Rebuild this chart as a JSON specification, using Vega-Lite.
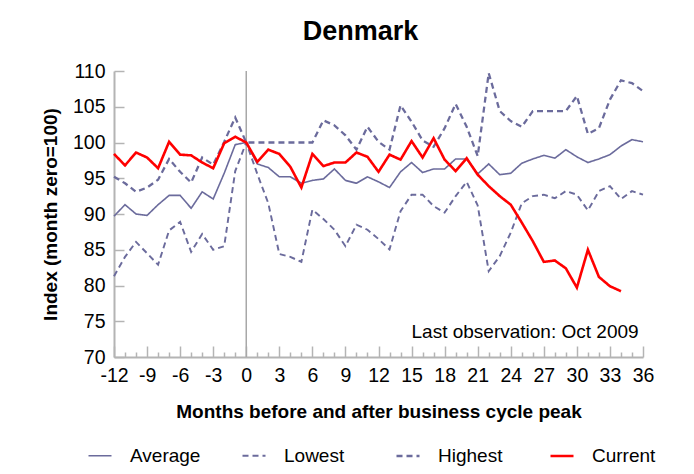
{
  "$schema": "https://vega.github.io/schema/vega-lite/v6.json",
  "width": 529,
  "height": 286,
  "autosize": {"type": "none"},
  "padding": {"left": 114, "top": 71, "right": 51, "bottom": 117},
  "background": "white",
  "config": {"view": {"stroke": null}, "font": "Liberation Sans"},
  "title": {"text": "Denmark", "fontSize": 27, "font": "Liberation Sans", "fontWeight": "bold", "color": "black", "offset": 15, "dx": -18, "anchor": "middle"},
  "datasets": {
    "series": [
      {"m": -12, "s": "Average", "v": 89.7}, {"m": -11, "s": "Average", "v": 91.3}, {"m": -10, "s": "Average", "v": 90.0}, {"m": -9, "s": "Average", "v": 89.8}, {"m": -8, "s": "Average", "v": 91.3}, {"m": -7, "s": "Average", "v": 92.6}, {"m": -6, "s": "Average", "v": 92.6}, {"m": -5, "s": "Average", "v": 90.8}, {"m": -4, "s": "Average", "v": 93.1}, {"m": -3, "s": "Average", "v": 92.1}, {"m": -2, "s": "Average", "v": 95.7}, {"m": -1, "s": "Average", "v": 99.7}, {"m": 0, "s": "Average", "v": 100.0}, {"m": 1, "s": "Average", "v": 97.0}, {"m": 2, "s": "Average", "v": 96.5}, {"m": 3, "s": "Average", "v": 95.2}, {"m": 4, "s": "Average", "v": 95.2}, {"m": 5, "s": "Average", "v": 94.3}, {"m": 6, "s": "Average", "v": 94.7}, {"m": 7, "s": "Average", "v": 94.9}, {"m": 8, "s": "Average", "v": 96.3}, {"m": 9, "s": "Average", "v": 94.7}, {"m": 10, "s": "Average", "v": 94.3}, {"m": 11, "s": "Average", "v": 95.2}, {"m": 12, "s": "Average", "v": 94.5}, {"m": 13, "s": "Average", "v": 93.7}, {"m": 14, "s": "Average", "v": 95.9}, {"m": 15, "s": "Average", "v": 97.2}, {"m": 16, "s": "Average", "v": 95.8}, {"m": 17, "s": "Average", "v": 96.3}, {"m": 18, "s": "Average", "v": 96.3}, {"m": 19, "s": "Average", "v": 97.7}, {"m": 20, "s": "Average", "v": 97.7}, {"m": 21, "s": "Average", "v": 95.6}, {"m": 22, "s": "Average", "v": 97.0}, {"m": 23, "s": "Average", "v": 95.5}, {"m": 24, "s": "Average", "v": 95.7}, {"m": 25, "s": "Average", "v": 97.1}, {"m": 26, "s": "Average", "v": 97.7}, {"m": 27, "s": "Average", "v": 98.2}, {"m": 28, "s": "Average", "v": 97.8}, {"m": 29, "s": "Average", "v": 99.0}, {"m": 30, "s": "Average", "v": 98.0}, {"m": 31, "s": "Average", "v": 97.2}, {"m": 32, "s": "Average", "v": 97.7}, {"m": 33, "s": "Average", "v": 98.3}, {"m": 34, "s": "Average", "v": 99.5}, {"m": 35, "s": "Average", "v": 100.4}, {"m": 36, "s": "Average", "v": 100.1},
      {"m": -12, "s": "Lowest", "v": 81.3}, {"m": -11, "s": "Lowest", "v": 84.0}, {"m": -10, "s": "Lowest", "v": 86.1}, {"m": -9, "s": "Lowest", "v": 84.5}, {"m": -8, "s": "Lowest", "v": 82.9}, {"m": -7, "s": "Lowest", "v": 87.7}, {"m": -6, "s": "Lowest", "v": 88.9}, {"m": -5, "s": "Lowest", "v": 84.7}, {"m": -4, "s": "Lowest", "v": 87.2}, {"m": -3, "s": "Lowest", "v": 85.0}, {"m": -2, "s": "Lowest", "v": 85.5}, {"m": -1, "s": "Lowest", "v": 96.0}, {"m": 0, "s": "Lowest", "v": 100.0}, {"m": 1, "s": "Lowest", "v": 95.6}, {"m": 2, "s": "Lowest", "v": 91.5}, {"m": 3, "s": "Lowest", "v": 84.4}, {"m": 4, "s": "Lowest", "v": 84.0}, {"m": 5, "s": "Lowest", "v": 83.3}, {"m": 6, "s": "Lowest", "v": 90.6}, {"m": 7, "s": "Lowest", "v": 89.3}, {"m": 8, "s": "Lowest", "v": 87.8}, {"m": 9, "s": "Lowest", "v": 85.5}, {"m": 10, "s": "Lowest", "v": 88.5}, {"m": 11, "s": "Lowest", "v": 87.8}, {"m": 12, "s": "Lowest", "v": 86.5}, {"m": 13, "s": "Lowest", "v": 85.05}, {"m": 14, "s": "Lowest", "v": 90.4}, {"m": 15, "s": "Lowest", "v": 92.7}, {"m": 16, "s": "Lowest", "v": 92.7}, {"m": 17, "s": "Lowest", "v": 91.1}, {"m": 18, "s": "Lowest", "v": 90.2}, {"m": 19, "s": "Lowest", "v": 92.5}, {"m": 20, "s": "Lowest", "v": 94.5}, {"m": 21, "s": "Lowest", "v": 91.2}, {"m": 22, "s": "Lowest", "v": 82.0}, {"m": 23, "s": "Lowest", "v": 84.1}, {"m": 24, "s": "Lowest", "v": 87.4}, {"m": 25, "s": "Lowest", "v": 91.5}, {"m": 26, "s": "Lowest", "v": 92.5}, {"m": 27, "s": "Lowest", "v": 92.7}, {"m": 28, "s": "Lowest", "v": 92.2}, {"m": 29, "s": "Lowest", "v": 93.2}, {"m": 30, "s": "Lowest", "v": 92.7}, {"m": 31, "s": "Lowest", "v": 90.5}, {"m": 32, "s": "Lowest", "v": 93.2}, {"m": 33, "s": "Lowest", "v": 93.9}, {"m": 34, "s": "Lowest", "v": 92.1}, {"m": 35, "s": "Lowest", "v": 93.2}, {"m": 36, "s": "Lowest", "v": 92.7},
      {"m": -12, "s": "Highest", "v": 95.2}, {"m": -11, "s": "Highest", "v": 94.3}, {"m": -10, "s": "Highest", "v": 93.1}, {"m": -9, "s": "Highest", "v": 93.7}, {"m": -8, "s": "Highest", "v": 94.8}, {"m": -7, "s": "Highest", "v": 97.7}, {"m": -6, "s": "Highest", "v": 95.9}, {"m": -5, "s": "Highest", "v": 94.4}, {"m": -4, "s": "Highest", "v": 97.9}, {"m": -3, "s": "Highest", "v": 96.9}, {"m": -2, "s": "Highest", "v": 100.1}, {"m": -1, "s": "Highest", "v": 103.5}, {"m": 0, "s": "Highest", "v": 100.0}, {"m": 1, "s": "Highest", "v": 100.0}, {"m": 2, "s": "Highest", "v": 100.0}, {"m": 3, "s": "Highest", "v": 100.0}, {"m": 4, "s": "Highest", "v": 100.0}, {"m": 5, "s": "Highest", "v": 100.0}, {"m": 6, "s": "Highest", "v": 100.0}, {"m": 7, "s": "Highest", "v": 103.1}, {"m": 8, "s": "Highest", "v": 102.4}, {"m": 9, "s": "Highest", "v": 101.0}, {"m": 10, "s": "Highest", "v": 99.0}, {"m": 11, "s": "Highest", "v": 102.2}, {"m": 12, "s": "Highest", "v": 100.1}, {"m": 13, "s": "Highest", "v": 99.0}, {"m": 14, "s": "Highest", "v": 105.2}, {"m": 15, "s": "Highest", "v": 102.9}, {"m": 16, "s": "Highest", "v": 100.3}, {"m": 17, "s": "Highest", "v": 99.4}, {"m": 18, "s": "Highest", "v": 102.0}, {"m": 19, "s": "Highest", "v": 105.4}, {"m": 20, "s": "Highest", "v": 102.2}, {"m": 21, "s": "Highest", "v": 98.1}, {"m": 22, "s": "Highest", "v": 109.7}, {"m": 23, "s": "Highest", "v": 104.4}, {"m": 24, "s": "Highest", "v": 103.0}, {"m": 25, "s": "Highest", "v": 102.2}, {"m": 26, "s": "Highest", "v": 104.4}, {"m": 27, "s": "Highest", "v": 104.4}, {"m": 28, "s": "Highest", "v": 104.4}, {"m": 29, "s": "Highest", "v": 104.4}, {"m": 30, "s": "Highest", "v": 106.5}, {"m": 31, "s": "Highest", "v": 101.2}, {"m": 32, "s": "Highest", "v": 102.0}, {"m": 33, "s": "Highest", "v": 106.0}, {"m": 34, "s": "Highest", "v": 108.7}, {"m": 35, "s": "Highest", "v": 108.3}, {"m": 36, "s": "Highest", "v": 107.2},
      {"m": -12, "s": "Current", "v": 98.4}, {"m": -11, "s": "Current", "v": 96.8}, {"m": -10, "s": "Current", "v": 98.6}, {"m": -9, "s": "Current", "v": 97.9}, {"m": -8, "s": "Current", "v": 96.4}, {"m": -7, "s": "Current", "v": 100.1}, {"m": -6, "s": "Current", "v": 98.3}, {"m": -5, "s": "Current", "v": 98.2}, {"m": -4, "s": "Current", "v": 97.2}, {"m": -3, "s": "Current", "v": 96.4}, {"m": -2, "s": "Current", "v": 99.9}, {"m": -1, "s": "Current", "v": 100.8}, {"m": 0, "s": "Current", "v": 100.0}, {"m": 1, "s": "Current", "v": 97.3}, {"m": 2, "s": "Current", "v": 99.0}, {"m": 3, "s": "Current", "v": 98.4}, {"m": 4, "s": "Current", "v": 96.6}, {"m": 5, "s": "Current", "v": 93.7}, {"m": 6, "s": "Current", "v": 98.4}, {"m": 7, "s": "Current", "v": 96.7}, {"m": 8, "s": "Current", "v": 97.2}, {"m": 9, "s": "Current", "v": 97.2}, {"m": 10, "s": "Current", "v": 98.6}, {"m": 11, "s": "Current", "v": 98.0}, {"m": 12, "s": "Current", "v": 95.9}, {"m": 13, "s": "Current", "v": 98.3}, {"m": 14, "s": "Current", "v": 97.6}, {"m": 15, "s": "Current", "v": 100.2}, {"m": 16, "s": "Current", "v": 97.9}, {"m": 17, "s": "Current", "v": 100.6}, {"m": 18, "s": "Current", "v": 97.6}, {"m": 19, "s": "Current", "v": 96.0}, {"m": 20, "s": "Current", "v": 97.8}, {"m": 21, "s": "Current", "v": 95.5}, {"m": 22, "s": "Current", "v": 93.9}, {"m": 23, "s": "Current", "v": 92.5}, {"m": 24, "s": "Current", "v": 91.3}, {"m": 25, "s": "Current", "v": 88.8}, {"m": 26, "s": "Current", "v": 86.2}, {"m": 27, "s": "Current", "v": 83.3}, {"m": 28, "s": "Current", "v": 83.5}, {"m": 29, "s": "Current", "v": 82.4}, {"m": 30, "s": "Current", "v": 79.7}, {"m": 31, "s": "Current", "v": 85.0}, {"m": 32, "s": "Current", "v": 81.2}, {"m": 33, "s": "Current", "v": 79.9}, {"m": 34, "s": "Current", "v": 79.2}
    ],
    "note": [{"m": 35.6, "v": 72.7, "t": "Last observation: Oct 2009"}],
    "zero": [{"m": 0, "v": 70, "v2": 110}]
  },
  "encoding": {
    "x": {
      "field": "m", "type": "quantitative",
      "scale": {"domain": [-12, 36], "nice": false, "zero": false},
      "axis": {
        "values": [-12,-11,-10,-9,-8,-7,-6,-5,-4,-3,-2,-1,0,1,2,3,4,5,6,7,8,9,10,11,12,13,14,15,16,17,18,19,20,21,22,23,24,25,26,27,28,29,30,31,32,33,34,35,36],
        "ticks": true,
        "tickSize": {"condition": {"test": "datum.value % 3 === 0", "value": -11}, "value": -5},
        "labelExpr": "datum.value % 3 === 0 ? '' + datum.value : ''",
        "labelOverlap": false, "labelFlush": false,
        "labelFontSize": 19.5, "labelFont": "Liberation Sans", "labelColor": "black", "labelPadding": 20,
        "domainColor": "#b4b4b4", "domainWidth": 2, "tickColor": "#b4b4b4", "tickWidth": 1.5, "grid": false,
        "title": "Months before and after business cycle peak", "titleFontSize": 19, "titleFont": "Liberation Sans", "titleFontWeight": "bold", "titleColor": "black", "titlePadding": 12
      }
    },
    "y": {
      "field": "v", "type": "quantitative",
      "scale": {"domain": [70, 110], "nice": false, "zero": false},
      "axis": {
        "values": [70, 75, 80, 85, 90, 95, 100, 105, 110],
        "ticks": true,
        "tickSize": -10, "labelPadding": 19,
        "labelOverlap": false, "labelFlush": false,
        "labelFontSize": 19.5, "labelFont": "Liberation Sans", "labelColor": "black",
        "domainColor": "#b4b4b4", "domainWidth": 2, "tickColor": "#b4b4b4", "tickWidth": 1.5, "grid": false,
        "title": "Index (month zero=100)", "titleFontSize": 19, "titleFont": "Liberation Sans", "titleFontWeight": "bold", "titleColor": "black", "titlePadding": 12
      }
    }
  },
  "layer": [
    {
      "data": {"name": "zero"},
      "mark": {"type": "rule", "color": "#a8a8a8", "strokeWidth": 1.5},
      "encoding": {"y2": {"field": "v2"}}
    },
    {
      "data": {"name": "series"},
      "mark": {"type": "line", "strokeJoin": "miter"},
      "encoding": {
        "color": {
          "field": "s", "type": "nominal",
          "scale": {"domain": ["Average", "Lowest", "Highest", "Current"], "range": ["#6b6b9c", "#6b6b9c", "#6b6b9c", "#ff0000"]},
          "legend": {"orient": "none", "legendX": -27, "legendY": 372, "direction": "horizontal", "columns": 4, "gridAlign": "all", "columnPadding": 36, "title": null, "symbolType": "stroke", "symbolSize": 529, "labelFontSize": 19, "labelFont": "Liberation Sans", "labelColor": "black", "labelOffset": 17}
        },
        "strokeDash": {
          "field": "s", "type": "nominal",
          "scale": {"domain": ["Average", "Lowest", "Highest", "Current"], "range": [[1, 0], [6, 4], [6, 4], [1, 0]]},
          "legend": {"orient": "none", "legendX": -27, "legendY": 372, "direction": "horizontal", "columns": 4, "gridAlign": "all", "columnPadding": 36, "title": null, "symbolType": "stroke", "symbolSize": 529, "labelFontSize": 19, "labelFont": "Liberation Sans", "labelColor": "black", "labelOffset": 17}
        },
        "strokeWidth": {
          "field": "s", "type": "nominal",
          "scale": {"domain": ["Average", "Lowest", "Highest", "Current"], "range": [1.6, 2.6, 2.6, 3.3]},
          "legend": {"orient": "none", "legendX": -27, "legendY": 372, "direction": "horizontal", "columns": 4, "gridAlign": "all", "columnPadding": 36, "title": null, "symbolType": "stroke", "symbolSize": 529, "labelFontSize": 19, "labelFont": "Liberation Sans", "labelColor": "black", "labelOffset": 17}
        }
      }
    },
    {
      "data": {"name": "note"},
      "mark": {"type": "text", "align": "right", "baseline": "alphabetic", "fontSize": 19, "font": "Liberation Sans", "color": "black"},
      "encoding": {"text": {"field": "t"}}
    }
  ]
}
